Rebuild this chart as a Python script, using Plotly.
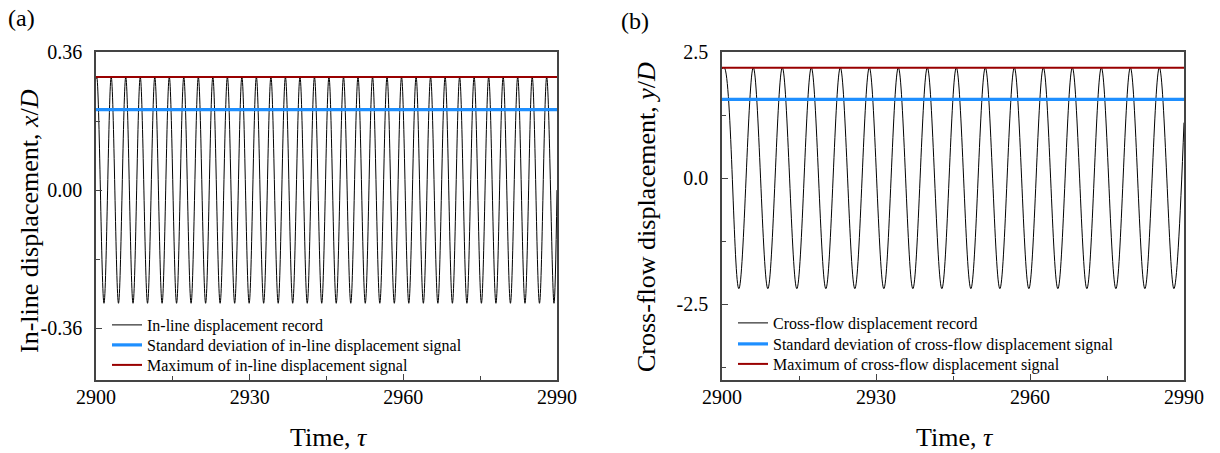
import plotly.graph_objects as go

# ---------------- data ----------------
# (a) in-line displacement x/D: turning points of the record (time, value)
inline_peak_t = [2900.14, 2902.97, 2905.81, 2908.64, 2911.48, 2914.31, 2917.14, 2919.98,
                 2922.81, 2925.65, 2928.48, 2931.31, 2934.15, 2936.98, 2939.82, 2942.65,
                 2945.48, 2948.32, 2951.15, 2953.99, 2956.82, 2959.65, 2962.49, 2965.32,
                 2968.16, 2970.99, 2973.82, 2976.66, 2979.49, 2982.33, 2985.16, 2987.99]
inline_peak_v = [0.295, 0.295, 0.295, 0.295, 0.295, 0.295, 0.295, 0.295,
                 0.295, 0.295, 0.295, 0.295, 0.295, 0.295, 0.295, 0.295,
                 0.295, 0.295, 0.295, 0.295, 0.295, 0.295, 0.295, 0.295,
                 0.295, 0.295, 0.295, 0.295, 0.295, 0.295, 0.295, 0.295]
inline_trough_t = [2901.56, 2904.39, 2907.23, 2910.06, 2912.90, 2915.73, 2918.56, 2921.40,
                   2924.23, 2927.07, 2929.90, 2932.73, 2935.57, 2938.40, 2941.24, 2944.07,
                   2946.90, 2949.74, 2952.57, 2955.41, 2958.24, 2961.07, 2963.91, 2966.74,
                   2969.58, 2972.41, 2975.24, 2978.08, 2980.91, 2983.75, 2986.58, 2989.41]
inline_trough_v = [-0.295, -0.295, -0.295, -0.295, -0.295, -0.295, -0.295, -0.295,
                   -0.295, -0.295, -0.295, -0.295, -0.295, -0.295, -0.295, -0.295,
                   -0.295, -0.295, -0.295, -0.295, -0.295, -0.295, -0.295, -0.295,
                   -0.295, -0.295, -0.295, -0.295, -0.295, -0.295, -0.295, -0.295]
inline_ends_t = [2900.0, 2990.0]
inline_ends_v = [0.29, 0.0]
inline_std = 0.21
inline_max = 0.295

# (b) cross-flow displacement y/D: turning points of the record (time, value)
cross_peak_t = [2900.45, 2906.10, 2911.75, 2917.40, 2923.05, 2928.70, 2934.35, 2940.00,
                2945.65, 2951.30, 2956.95, 2962.60, 2968.25, 2973.90, 2979.55, 2985.20]
cross_peak_v = [2.19, 2.19, 2.19, 2.19, 2.19, 2.19, 2.19, 2.19,
                2.19, 2.19, 2.19, 2.19, 2.19, 2.19, 2.19, 2.19]
cross_trough_t = [2903.28, 2908.93, 2914.58, 2920.23, 2925.88, 2931.53, 2937.18, 2942.83,
                  2948.48, 2954.13, 2959.78, 2965.43, 2971.08, 2976.73, 2982.38, 2988.03]
cross_trough_v = [-2.19, -2.19, -2.19, -2.19, -2.19, -2.19, -2.19, -2.19,
                  -2.19, -2.19, -2.19, -2.19, -2.19, -2.19, -2.19, -2.19]
cross_ends_t = [2900.0, 2990.0]
cross_ends_v = [2.17, 1.1]
cross_std = 1.56
cross_max = 2.19

time_range = [2900, 2990]
x_tickvals = [2900, 2930, 2960, 2990]
x_ticktext = ["2900", "2930", "2960", "2990"]
a_tickvals = [-0.36, 0.0, 0.36]
a_ticktext = ["-0.36", "0.00", "0.36"]
b_tickvals = [-2.5, 0.0, 2.5]
b_ticktext = ["-2.5", "0.0", "2.5"]

legend_a = ["In-line displacement record",
            "Standard deviation of in-line displacement signal",
            "Maximum of in-line displacement signal"]
legend_b = ["Cross-flow displacement record",
            "Standard deviation of cross-flow displacement signal",
            "Maximum of cross-flow displacement signal"]


def merge(*pairs):
    pts = []
    for ts, vs in pairs:
        pts.extend(zip(ts, vs))
    pts.sort()
    return [p[0] for p in pts], [p[1] for p in pts]


ta, va = merge((inline_peak_t, inline_peak_v), (inline_trough_t, inline_trough_v),
               (inline_ends_t, inline_ends_v))
tb, vb = merge((cross_peak_t, cross_peak_v), (cross_trough_t, cross_trough_v),
               (cross_ends_t, cross_ends_v))

# ---------------- style ----------------
W, H = 1220, 453
SERIF = "Liberation Serif"
AX = "#444444"
BLUE = "#1E8FFF"
RED = "#990000"


def px_x(p):
    return p / W


def px_y(p):
    return 1 - p / H


fig = go.Figure()

# each legend entry gets its own one-row legend so the row pitch can be set freely
panels = [
    (ta, va, inline_std, inline_max, legend_a, "x", "y", ["legend", "legend2", "legend3"]),
    (tb, vb, cross_std, cross_max, legend_b, "x2", "y2", ["legend4", "legend5", "legend6"]),
]
for (t, v, sd, mx, names, xa, ya, lgs) in panels:
    fig.add_trace(go.Scatter(x=t, y=v, mode="lines", name=names[0],
                             line=dict(color="black", width=1, shape="spline"),
                             xaxis=xa, yaxis=ya, legend=lgs[0]))
    fig.add_trace(go.Scatter(x=time_range, y=[sd, sd], mode="lines", name=names[1],
                             line=dict(color=BLUE, width=3.2),
                             xaxis=xa, yaxis=ya, legend=lgs[1]))
    fig.add_trace(go.Scatter(x=time_range, y=[mx, mx], mode="lines", name=names[2],
                             line=dict(color=RED, width=2),
                             xaxis=xa, yaxis=ya, legend=lgs[2]))

common_x = dict(range=time_range, tickvals=x_tickvals, ticktext=x_ticktext,
                ticks="inside", ticklen=6, tickwidth=1, tickcolor=AX,
                minor=dict(ticks="inside", ticklen=4, tickwidth=1, tickcolor=AX, dtick=15,
                           tick0=2900, showgrid=False),
                showline=True, linecolor=AX, linewidth=1.5, mirror=True,
                showgrid=False, zeroline=False, automargin=False,
                tickfont=dict(family=SERIF, size=20, color="black"),
                ticklabelstandoff=-2)
common_y = dict(ticks="inside", ticklen=6, tickwidth=1, tickcolor=AX,
                showline=True, linecolor=AX, linewidth=1.5, mirror=True,
                showgrid=False, zeroline=False, automargin=False,
                tickfont=dict(family=SERIF, size=20, color="black"),
                ticklabelstandoff=8)

legend_style = dict(xanchor="left", yanchor="top", bgcolor="rgba(0,0,0,0)",
                    borderwidth=0, tracegroupgap=0,
                    font=dict(family=SERIF, size=16, color="black"))

ydom = [px_y(380), px_y(52)]
fig.update_layout(
    width=W, height=H,
    margin=dict(l=0, r=0, t=0, b=0, autoexpand=False),
    paper_bgcolor="white", plot_bgcolor="white",
    font=dict(family=SERIF, color="black"),
    xaxis=dict(domain=[px_x(96), px_x(557)], anchor="y", **common_x),
    yaxis=dict(domain=ydom, anchor="x", range=[-0.495, 0.36],
               tickvals=a_tickvals, ticktext=a_ticktext,
               minor=dict(ticks="inside", ticklen=4, tickwidth=1, tickcolor=AX,
                          dtick=0.18, tick0=0, showgrid=False),
               **common_y),
    xaxis2=dict(domain=[px_x(722), px_x(1184)], anchor="y2", **common_x),
    yaxis2=dict(domain=ydom, anchor="x2", range=[-4.0, 2.5],
                tickvals=b_tickvals, ticktext=b_ticktext,
                minor=dict(ticks="inside", ticklen=4, tickwidth=1, tickcolor=AX,
                           dtick=1.25, tick0=0, showgrid=False),
                **common_y),
    legend=dict(x=px_x(107), y=px_y(308), **legend_style),
    legend2=dict(x=px_x(107), y=px_y(328), **legend_style),
    legend3=dict(x=px_x(107), y=px_y(348), **legend_style),
    legend4=dict(x=px_x(733), y=px_y(306), **legend_style),
    legend5=dict(x=px_x(733), y=px_y(327), **legend_style),
    legend6=dict(x=px_x(733), y=px_y(347), **legend_style),
    showlegend=True,
)

annotations = [
    dict(text="(a)", x=px_x(21), y=px_y(18), font=dict(size=24)),
    dict(text="(b)", x=px_x(635), y=px_y(21), font=dict(size=24)),
    dict(text="In-line displacement, <i>x</i>/<i>D</i>", x=px_x(29), y=px_y(221),
         textangle=-90, font=dict(size=26)),
    dict(text="Cross-flow displacement, <i>y</i>/<i>D</i>", x=px_x(646), y=px_y(217),
         textangle=-90, font=dict(size=26)),
    dict(text="Time, <i>τ</i>", x=px_x(329), y=px_y(437), font=dict(size=26)),
    dict(text="Time, <i>τ</i>", x=px_x(955), y=px_y(437), font=dict(size=26)),
]
for a in annotations:
    a.update(xref="paper", yref="paper", xanchor="center", yanchor="middle",
             showarrow=False)
    a["font"].update(family=SERIF, color="black")
fig.update_layout(annotations=annotations)

fig.write_html("out.html")
